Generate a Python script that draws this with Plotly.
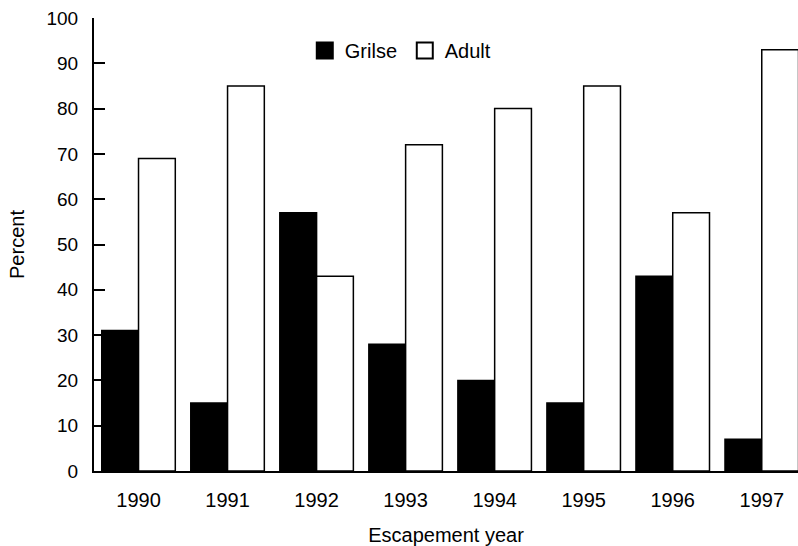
import plotly.graph_objects as go

years = ["1990", "1991", "1992", "1993", "1994", "1995", "1996", "1997"]
grilse = [31, 15, 57, 28, 20, 15, 43, 7]
adult = [69, 85, 43, 72, 80, 85, 57, 93]
y_ticks = [0, 10, 20, 30, 40, 50, 60, 70, 80, 90, 100]

FONT = "Liberation Sans, Arial, sans-serif"

fig = go.Figure()
fig.add_trace(go.Bar(x=years, y=grilse, name="Grilse", showlegend=False,
                     marker=dict(color="black", line=dict(color="black", width=1.5))))
fig.add_trace(go.Bar(x=years, y=adult, name="Adult", showlegend=False,
                     marker=dict(color="white", line=dict(color="black", width=1.5))))
# legend-only entries
fig.add_trace(go.Scatter(x=[None], y=[None], mode="markers", name="Grilse",
                         marker=dict(symbol="square", size=16, color="black",
                                     line=dict(color="black", width=2))))
fig.add_trace(go.Scatter(x=[None], y=[None], mode="markers", name="Adult",
                         marker=dict(symbol="square", size=16, color="white",
                                     line=dict(color="black", width=2))))

fig.update_layout(
    width=798, height=546,
    margin=dict(l=94, r=0, t=18, b=75, autoexpand=False),
    paper_bgcolor="white", plot_bgcolor="white",
    font=dict(family=FONT, size=20, color="black"),
    barmode="group", bargap=0.174, bargroupgap=0,
    showlegend=True,
    legend=dict(orientation="h", x=0.2994, xanchor="left", y=0.928, yanchor="middle",
                font=dict(size=20), bgcolor="rgba(0,0,0,0)", itemsizing="trace",
                entrywidth=55),
    xaxis=dict(range=[-0.5, 7.407], showline=True, linecolor="black", linewidth=2,
               ticks="", showgrid=False, zeroline=False, automargin=False,
               tickfont=dict(size=20), ticklabelstandoff=10,
               title=dict(text="Escapement year", standoff=18, font=dict(size=20))),
    yaxis=dict(range=[0, 100], tickvals=y_ticks, showline=True, linecolor="black",
               linewidth=2, ticks="inside", ticklen=11, tickwidth=2, tickcolor="black",
               showgrid=False, zeroline=False, ticklabelstandoff=10, automargin=False,
               tickfont=dict(size=19),
               title=dict(text="Percent", standoff=16, font=dict(size=20))),
)

fig.write_html("out.html", config={"displayModeBar": False},
               post_script="document.body.style.margin='0';")
